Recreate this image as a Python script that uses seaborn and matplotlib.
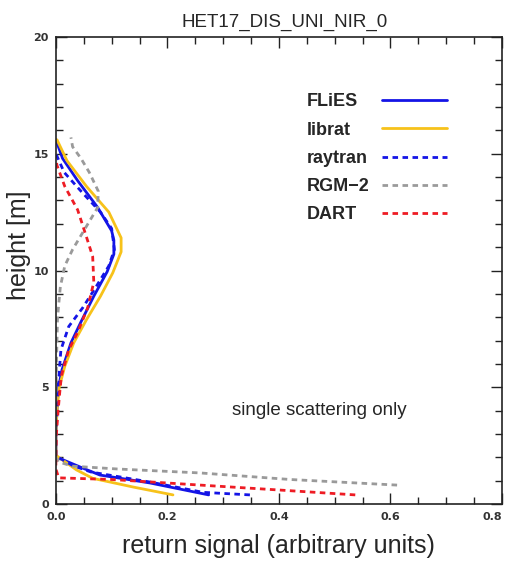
import numpy as np
import pandas as pd
import matplotlib
matplotlib.use("Agg")
import matplotlib.pyplot as plt
from matplotlib.ticker import MultipleLocator, FormatStrFormatter
import seaborn as sns

# Data (signal, height in m) per model
MODELS = ["FLiES", "librat", "raytran", "RGM\u22122", "DART"]

flies_x = [0.274, 0.169, 0.079, 0.048, 0.007, 0.0, 0.0, 0.002, 0.004, 0.011, 0.027, 0.045, 0.068,
           0.092, 0.104, 0.104, 0.100, 0.075, 0.039, 0.012, 0.0]
flies_h = [0.39, 0.90, 1.24, 1.54, 1.95, 2.0, 3.0, 4.0, 4.9, 5.75, 6.9, 7.8, 8.9,
           9.95, 10.7, 11.3, 11.7, 12.7, 13.85, 14.8, 15.6]

librat_x = [0.210, 0.138, 0.066, 0.037, 0.005, 0.0, 0.0, 0.002, 0.006, 0.016, 0.032, 0.055, 0.080,
            0.102, 0.117, 0.117, 0.095, 0.055, 0.020, 0.002]
librat_h = [0.39, 0.73, 1.10, 1.46, 2.0, 2.1, 3.0, 4.0, 5.0, 5.9, 6.9, 7.9, 8.9,
            9.9, 10.8, 11.4, 12.5, 13.6, 14.7, 15.6]

raytran_x = [0.348, 0.264, 0.169, 0.063, 0.030, 0.008, 0.0, 0.0, 0.002, 0.004, 0.009, 0.023, 0.048,
             0.072, 0.095, 0.105, 0.100, 0.080, 0.045, 0.015, 0.0]
raytran_h = [0.39, 0.50, 0.94, 1.37, 1.65, 1.95, 2.0, 3.0, 4.0, 5.0, 6.6, 7.6, 8.4,
             9.3, 10.2, 10.9, 11.8, 12.5, 13.4, 14.2, 15.0]

rgm_x = [0.612, 0.420, 0.259, 0.110, 0.030, 0.005, 0.0, 0.0, 0.001, 0.003, 0.008, 0.016, 0.030,
         0.050, 0.075, 0.076, 0.060, 0.045, 0.030, 0.027]
rgm_h = [0.81, 1.05, 1.33, 1.50, 1.62, 1.80, 2.0, 4.0, 6.0, 8.0, 9.3, 10.2, 10.9,
         11.7, 12.7, 13.4, 14.2, 14.8, 15.3, 15.7]

dart_x = [0.537, 0.400, 0.259, 0.100, 0.005, 0.0, 0.0, 0.001, 0.004, 0.007, 0.010, 0.023, 0.039,
          0.057, 0.068, 0.066, 0.054, 0.039, 0.016, 0.002, 0.0]
dart_h = [0.39, 0.60, 0.81, 1.05, 1.12, 1.5, 2.0, 3.0, 4.0, 4.8, 5.5, 6.6, 7.35,
          8.4, 9.5, 10.6, 11.5, 12.6, 13.6, 14.5, 14.8]

COLORS = ["#1414e6", "#f7c21a", "#1414e6", "#9a9a9a", "#ee1c24"]
DASHES = ["", "", (2, 1.6), (2, 1.6), (2, 1.6)]

# Build long table
frames = []
for name, xs, hs in zip(MODELS,
                        [flies_x, librat_x, raytran_x, rgm_x, dart_x],
                        [flies_h, librat_h, raytran_h, rgm_h, dart_h]):
    frames.append(pd.DataFrame({"signal": xs, "height": hs, "model": name}))
df = pd.concat(frames, ignore_index=True)

sns.set_style("ticks")
plt.rcParams["font.family"] = ["Liberation Sans", "DejaVu Sans"]

fig = plt.figure(figsize=(5.08, 5.61), dpi=100)
ax = fig.add_axes([0.110, 0.1016, 0.878, 0.8324])

sns.lineplot(data=df, x="signal", y="height", hue="model", style="model",
             hue_order=MODELS, style_order=MODELS,
             palette=dict(zip(MODELS, COLORS)), dashes=dict(zip(MODELS, DASHES)),
             sort=False, estimator=None, linewidth=2.0, ax=ax)

ax.set_xlim(0, 0.8)
ax.set_ylim(0, 20)
ax.xaxis.set_major_locator(MultipleLocator(0.2))
ax.xaxis.set_minor_locator(MultipleLocator(0.05))
ax.yaxis.set_major_locator(MultipleLocator(5))
ax.yaxis.set_minor_locator(MultipleLocator(1))
ax.xaxis.set_major_formatter(FormatStrFormatter("%.1f"))
ax.tick_params(which="both", direction="in", top=True, right=True, width=1.0, color="#222222")
ax.tick_params(which="major", length=8, labelsize=8, labelcolor="#333333")
ax.tick_params(axis="x", which="major", pad=6)
ax.tick_params(axis="y", which="major", pad=5)
ax.tick_params(which="minor", length=5)
fig.canvas.draw()
for lab in ax.get_xticklabels() + ax.get_yticklabels():
    lab.set_fontweight("bold")
    lab.set_family("DejaVu Sans")
# keep the last x label inside the image
for tick in ax.xaxis.get_major_ticks():
    if tick.label1.get_text() == "0.8":
        tick.label1.set_horizontalalignment("right")
        tick.label1.set_x(tick.label1.get_position()[0])
for sp in ax.spines.values():
    sp.set_linewidth(1.2)
    sp.set_color("#222222")

ax.set_xlabel("return signal (arbitrary units)", fontsize=18)
ax.set_ylabel("height [m]", fontsize=18)
ax.xaxis.set_label_coords(0.5, -0.064)
ax.yaxis.set_label_coords(-0.056, 0.555)
ax.set_title("HET17_DIS_UNI_NIR_0", fontsize=13.5, pad=7, x=0.513)

# legend: lines on the right, labels left-aligned on the left
h, l = ax.get_legend_handles_labels()
leg = ax.legend(h, l, loc="upper right", bbox_to_anchor=(0.913, 0.914), frameon=False,
                markerfirst=False, prop={"weight": "bold", "size": 13},
                handlelength=3.6, handletextpad=0.7, labelspacing=0.62)
fig.canvas.draw()
texts = leg.get_texts()
boxes = [t.get_window_extent() for t in texts]
x_left = min(b.x0 for b in boxes)
inv = fig.transFigure.inverted()
for t, b in zip(texts, boxes):
    fx, fy = inv.transform((x_left, b.y0))
    fig.text(fx, fy, t.get_text(), fontsize=13, fontweight="bold", ha="left", va="bottom")
    t.set_alpha(0)

ax.text(0.316, 4.0, "single scattering only", fontsize=13.5, va="center", ha="left")

fig.savefig("out.png", dpi=100)
